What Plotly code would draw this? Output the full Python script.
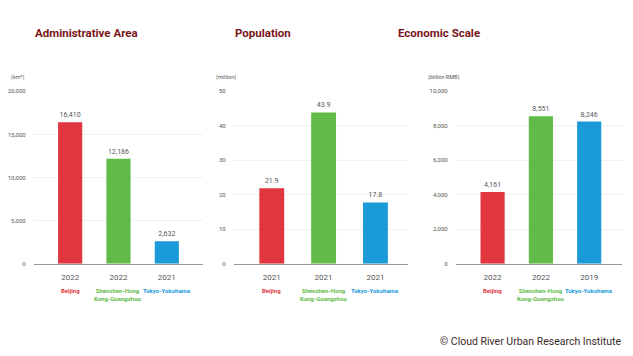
import plotly.graph_objects as go

cities = ["Beijing", "Shenzhen-Hong<br>Kong-Guangzhou", "Tokyo-Yokohama"]
city_keys = ["BJ", "SHG", "TY"]
colors = ["#e1363e", "#62bb48", "#1a9ad7"]

titles = ["Administrative Area", "Population", "Economic Scale"]
units = ["(km²)", "(million)", "(billion RMB)"]

area_values = [16410, 12186, 2632]
area_labels = ["16,410", "12,186", "2,632"]
area_years = ["2022", "2022", "2021"]
area_ticks = [0, 5000, 10000, 15000, 20000]
area_ticktext = ["0", "5,000", "10,000", "15,000", "20,000"]

pop_values = [21.9, 43.9, 17.8]
pop_labels = ["21.9", "43.9", "17.8"]
pop_years = ["2021", "2021", "2021"]
pop_ticks = [0, 10, 20, 30, 40, 50]
pop_ticktext = ["0", "10", "20", "30", "40", "50"]

gdp_values = [4161, 8551, 8246]
gdp_labels = ["4,161", "8,551", "8,246"]
gdp_years = ["2022", "2022", "2019"]
gdp_ticks = [0, 2000, 4000, 6000, 8000, 10000]
gdp_ticktext = ["0", "2,000", "4,000", "6,000", "8,000", "10,000"]

# page body has an 8px margin, so the figure is drawn 8px smaller and coordinates shifted
OFF = 8
W, H = 633 - OFF, 356 - OFF
FONT = "Roboto, sans-serif"


def px(x):
    return (x - OFF) / W


def py(y):
    return 1 - (y - OFF) / H


panels = [
    dict(vals=area_values, labels=area_labels, years=area_years, ticks=area_ticks,
         ticktext=area_ticktext, ymax=20000, xdom=(31, 201), xr=[-0.75, 2.75], bw=0.5,
         title_x=84, unit_x=6),
    dict(vals=pop_values, labels=pop_labels, years=pop_years, ticks=pop_ticks,
         ticktext=pop_ticktext, ymax=50, xdom=(232, 407), xr=[-0.73, 2.63], bw=0.48,
         title_x=261, unit_x=212),
    dict(vals=gdp_values, labels=gdp_labels, years=gdp_years, ticks=gdp_ticks,
         ticktext=gdp_ticktext, ymax=10000, xdom=(455, 622), xr=[-0.76, 2.68], bw=0.5,
         title_x=438, unit_x=425),
]

ydom = [py(265), py(89)]

fig = go.Figure()
annotations = []
for i, p in enumerate(panels):
    n = "" if i == 0 else str(i + 1)
    xa, ya = "x" + n, "y" + n
    fig.add_trace(go.Bar(
        x=city_keys, y=p["vals"], marker=dict(color=colors, line=dict(width=0)),
        width=p["bw"], text=p["labels"], textposition="outside",
        textfont=dict(size=7, color="#555555", family=FONT),
        cliponaxis=False, xaxis=xa, yaxis=ya, showlegend=False, hoverinfo="skip",
    ))
    fig.layout["xaxis" + n] = dict(
        domain=[px(p["xdom"][0]), px(p["xdom"][1])], anchor=ya,
        type="category", range=p["xr"], tickvals=city_keys, ticktext=p["years"],
        tickfont=dict(size=8, color="#555555", family=FONT),
        ticks="outside", ticklen=6, tickcolor="rgba(0,0,0,0)",
        showline=True, linecolor="#9a9a9a", linewidth=1, showgrid=False, fixedrange=True,
    )
    fig.layout["yaxis" + n] = dict(
        domain=ydom, anchor=xa, range=[0, p["ymax"]], tickvals=p["ticks"],
        ticktext=p["ticktext"], tickfont=dict(size=6, color="#555555", family=FONT),
        ticks="outside", ticklen=6, tickcolor="rgba(0,0,0,0)",
        showgrid=True, gridcolor="#f0f0f0", gridwidth=1, zeroline=False,
        showline=False, fixedrange=True,
    )
    annotations.append(dict(
        text="<b>" + titles[i] + "</b>", x=px(p["title_x"]), y=py(29),
        xref="paper", yref="paper", xanchor="center", yanchor="middle", showarrow=False,
        font=dict(size=11.5, color="#7a1518", family=FONT),
    ))
    annotations.append(dict(
        text=units[i], x=px(p["unit_x"]), y=py(75), xref="paper", yref="paper",
        xanchor="left", yanchor="middle", showarrow=False,
        font=dict(size=5.5, color="#555555", family=FONT),
    ))
    for k, c in enumerate(cities):
        annotations.append(dict(
            text="<b>" + c + "</b>", x=city_keys[k], y=py(287), xref=xa, yref="paper",
            xanchor="center", yanchor="top", showarrow=False, align="center",
            font=dict(size=6, color=colors[k], family=FONT),
        ))

annotations.append(dict(
    text="© Cloud River Urban Research Institute", x=px(623), y=py(344),
    xref="paper", yref="paper", xanchor="right", yanchor="middle", showarrow=False,
    font=dict(size=10.5, color="#3a2a2a", family=FONT),
))

fig.update_layout(
    width=W, height=H, margin=dict(l=0, r=0, t=0, b=0),
    paper_bgcolor="white", plot_bgcolor="white",
    annotations=annotations, bargap=0.5,
)
fig.write_html("out.html")
